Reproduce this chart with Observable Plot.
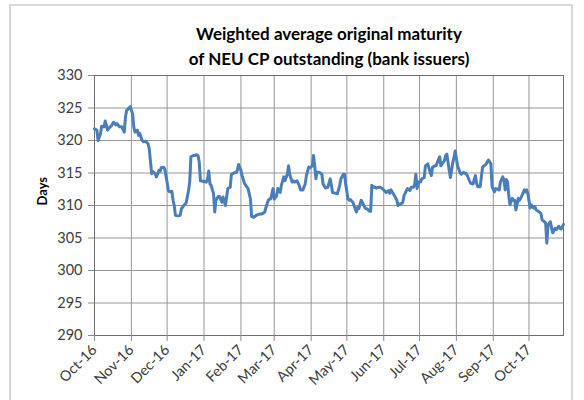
<!DOCTYPE html>
<html><head><meta charset="utf-8">
<script src="https://cdn.jsdelivr.net/npm/d3@7"></script>
<script src="https://cdn.jsdelivr.net/npm/@observablehq/plot@0.6"></script>
<style>
body{margin:0;background:#fff;}
#wrap{position:relative;width:584px;height:400px;overflow:hidden;}
#border{position:absolute;left:9px;top:4px;width:564px;height:430px;border:2px solid #d9d9d9;box-sizing:border-box;pointer-events:none;}
</style></head><body><div id="wrap"><div id="border"></div></div>
<script>
const titleLines = ["Weighted average original maturity", "of NEU CP outstanding (bank issuers)"];
const yLabel = "Days";
const yTicks = [290, 295, 300, 305, 310, 315, 320, 325, 330];
const monthTicks = ["2016-10-01","2016-11-01","2016-12-01","2017-01-01","2017-02-01","2017-03-01","2017-04-01","2017-05-01","2017-06-01","2017-07-01","2017-08-01","2017-09-01","2017-10-01"];
const xDomain = ["2016-10-01", "2017-10-30"];

const dates = [
"2016-10-01","2016-10-03","2016-10-04","2016-10-06","2016-10-07","2016-10-09","2016-10-10","2016-10-12","2016-10-14","2016-10-15",
"2016-10-17","2016-10-19","2016-10-20","2016-10-22","2016-10-24","2016-10-26","2016-10-27","2016-10-28","2016-10-30","2016-10-31",
"2016-11-02","2016-11-03","2016-11-04","2016-11-06","2016-11-07","2016-11-08","2016-11-10","2016-11-11","2016-11-13","2016-11-15",
"2016-11-16","2016-11-18","2016-11-19","2016-11-21","2016-11-22","2016-11-24","2016-11-25","2016-11-26","2016-11-28","2016-11-29",
"2016-12-01","2016-12-02","2016-12-03","2016-12-05","2016-12-06","2016-12-07","2016-12-08","2016-12-10","2016-12-12","2016-12-13",
"2016-12-15","2016-12-17","2016-12-19","2016-12-20","2016-12-21","2016-12-23","2016-12-24","2016-12-26","2016-12-27","2016-12-28",
"2016-12-29","2017-01-01","2017-01-03","2017-01-04","2017-01-05","2017-01-06","2017-01-07","2017-01-09","2017-01-10","2017-01-11",
"2017-01-13","2017-01-14","2017-01-16","2017-01-17","2017-01-19","2017-01-20","2017-01-21","2017-01-23","2017-01-24","2017-01-26",
"2017-01-28","2017-01-29","2017-01-30","2017-02-01","2017-02-02","2017-02-04","2017-02-07","2017-02-09","2017-02-10","2017-02-12",
"2017-02-14","2017-02-17","2017-02-19","2017-02-21","2017-02-22","2017-02-24","2017-02-25","2017-02-26","2017-02-28","2017-03-01",
"2017-03-03","2017-03-04","2017-03-06","2017-03-07","2017-03-09","2017-03-10","2017-03-12","2017-03-13","2017-03-14","2017-03-16",
"2017-03-17","2017-03-18","2017-03-20","2017-03-22","2017-03-23","2017-03-25","2017-03-27","2017-03-28","2017-03-30","2017-03-31",
"2017-04-02","2017-04-03","2017-04-04","2017-04-05","2017-04-06","2017-04-08","2017-04-10","2017-04-11","2017-04-13","2017-04-15",
"2017-04-17","2017-04-18","2017-04-19","2017-04-21","2017-04-23","2017-04-25","2017-04-26","2017-04-28","2017-04-29","2017-04-30",
"2017-05-02","2017-05-03","2017-05-04","2017-05-06","2017-05-07","2017-05-09","2017-05-10","2017-05-11","2017-05-13","2017-05-14",
"2017-05-16","2017-05-17","2017-05-18","2017-05-20","2017-05-21","2017-05-22","2017-05-24","2017-05-26","2017-05-28","2017-05-29",
"2017-05-30","2017-06-01","2017-06-03","2017-06-05","2017-06-06","2017-06-07","2017-06-09","2017-06-10","2017-06-12","2017-06-13",
"2017-06-14","2017-06-16","2017-06-17","2017-06-18","2017-06-20","2017-06-21","2017-06-23","2017-06-24","2017-06-26","2017-06-27",
"2017-06-28","2017-06-29","2017-06-30","2017-07-02","2017-07-03","2017-07-05","2017-07-06","2017-07-08","2017-07-10","2017-07-11",
"2017-07-12","2017-07-14","2017-07-15","2017-07-17","2017-07-18","2017-07-19","2017-07-20","2017-07-22","2017-07-23","2017-07-24",
"2017-07-26","2017-07-27","2017-07-29","2017-07-30","2017-07-31","2017-08-02","2017-08-04","2017-08-05","2017-08-07","2017-08-09",
"2017-08-10","2017-08-12","2017-08-13","2017-08-15","2017-08-16","2017-08-17","2017-08-18","2017-08-19","2017-08-21","2017-08-22",
"2017-08-23","2017-08-25","2017-08-26","2017-08-28","2017-08-29","2017-08-30","2017-08-31","2017-09-02","2017-09-03","2017-09-05",
"2017-09-06","2017-09-07","2017-09-09","2017-09-10","2017-09-11","2017-09-12","2017-09-13","2017-09-14","2017-09-15","2017-09-17",
"2017-09-18","2017-09-19","2017-09-20","2017-09-22","2017-09-23","2017-09-24","2017-09-26","2017-09-27","2017-09-28","2017-09-29",
"2017-09-30","2017-10-02","2017-10-03","2017-10-05","2017-10-06","2017-10-07","2017-10-09","2017-10-11","2017-10-12","2017-10-14",
"2017-10-15","2017-10-16","2017-10-17","2017-10-19","2017-10-20","2017-10-21","2017-10-23","2017-10-24","2017-10-26","2017-10-27",
"2017-10-28","2017-10-30"
];
const values = [
321.8,321.6,320.0,321.0,322.2,322.1,323.0,321.6,322.1,322.2,
322.8,322.4,322.6,322.1,322.1,321.3,323.6,324.6,325.0,325.2,
324.1,322.1,321.3,321.6,320.8,321.1,320.0,319.8,319.9,319.5,
318.7,314.9,315.2,314.9,314.4,315.4,315.2,315.8,315.9,315.6,
313.6,312.3,312.1,312.2,310.8,310.0,308.5,308.4,308.5,309.5,
310.0,310.4,312.3,313.6,317.5,317.7,317.7,317.8,317.7,316.6,
313.8,313.7,313.6,314.1,315.3,313.3,313.1,311.8,309.0,310.8,
311.4,311.4,310.5,311.3,310.0,311.3,312.6,312.8,314.8,315.0,
315.1,315.4,316.3,315.4,314.6,313.4,312.6,311.0,308.3,308.2,
308.5,308.7,308.7,309.0,309.7,310.8,311.0,311.0,312.6,311.0,
311.5,312.6,312.0,313.1,314.4,313.8,314.8,316.1,314.8,313.6,
313.8,313.6,313.8,313.1,312.4,312.4,313.3,314.6,315.9,315.8,
316.1,317.7,316.1,314.1,315.1,315.1,314.8,313.3,312.7,312.8,
314.1,313.1,312.0,311.9,311.8,313.1,314.1,314.8,314.8,313.3,
311.0,310.8,310.9,310.5,310.0,309.0,309.7,309.5,310.8,310.5,
309.7,309.5,309.5,309.1,309.1,313.1,312.8,312.7,312.8,312.8,
312.7,312.4,312.0,312.3,311.9,312.4,311.8,311.5,310.8,310.0,
310.2,310.3,310.5,311.5,312.3,312.6,312.3,312.8,312.8,313.3,
314.8,312.6,313.6,313.6,314.1,314.3,316.1,316.4,315.1,314.6,
315.9,316.1,316.1,317.1,317.5,316.1,316.4,316.9,317.7,317.9,
315.4,314.3,316.6,317.4,318.4,316.1,315.1,314.8,315.1,314.9,
314.7,313.8,313.4,313.3,314.0,314.6,313.4,312.9,312.9,314.4,
315.9,316.2,316.4,317.0,316.7,316.4,312.9,312.1,312.6,312.5,
312.4,313.6,314.4,313.9,312.4,314.0,313.6,311.6,310.1,311.1,
310.8,310.8,309.3,311.1,310.8,311.1,311.9,312.4,312.1,312.4,
311.9,309.6,310.1,309.6,309.8,309.3,309.1,308.8,307.8,307.5,
307.3,304.2,307.0,307.5,306.5,305.8,306.5,306.3,306.8,306.5,
306.4,307.1
];

const data = dates.map((d, i) => ({date: new Date(d), value: values[i]}));
const ticks = monthTicks.map(d => new Date(d));

const chart = Plot.plot({
  width: 584, height: 400,
  marginLeft: 94, marginRight: 21, marginTop: 75, marginBottom: 65,
  style: {fontFamily: "Lato, 'Open Sans', sans-serif", fontSize: "14px", color: "#404040", background: "transparent"},
  x: {type: "utc", domain: xDomain.map(d => new Date(d))},
  y: {domain: [290, 330]},
  marks: [
    Plot.gridX(ticks, {stroke: "#969696", strokeOpacity: 1}),
    Plot.gridY(yTicks, {stroke: "#969696", strokeOpacity: 1}),
    Plot.frame({stroke: "#6e6e6e"}),
    Plot.axisY(yTicks, {tickSize: 6, tickPadding: 6, label: null, fontSize: 14.5, stroke: "#8a8a8a", fill: "#404040"}),
    Plot.axisX(ticks, {tickFormat: d3.utcFormat("%b-%y"), tickRotate: -45, tickSize: 6, tickPadding: 6, label: null, fontSize: 14.5, stroke: "#8a8a8a", fill: "#404040"}),
    Plot.line(data, {x: "date", y: "value", stroke: "#4a7ebb", strokeWidth: 3, strokeLinejoin: "round"}),
    Plot.text([yLabel], {frameAnchor: "left", dx: -52, rotate: -90, fontWeight: "bold", fontSize: 13, fill: "#000"}),
    Plot.text([titleLines[0]], {frameAnchor: "top", dy: -48, fontWeight: "bold", fontSize: 17, fill: "#000"}),
    Plot.text([titleLines[1]], {frameAnchor: "top", dy: -23, fontWeight: "bold", fontSize: 17, fill: "#000"})
  ]
});
document.getElementById("wrap").appendChild(chart);
</script>
</body></html>
